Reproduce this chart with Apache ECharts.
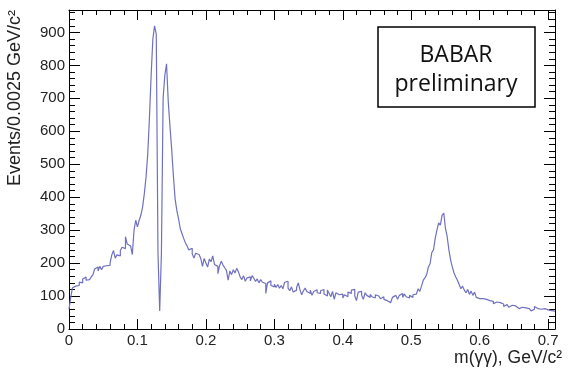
<!DOCTYPE html>
<html>
<head>
<meta charset="utf-8">
<script src="https://cdn.jsdelivr.net/npm/echarts@6/dist/echarts.min.js"></script>
<style>
  html, body { margin: 0; padding: 0; background: #fff; }
  #chart { width: 568px; height: 376px; }
</style>
</head>
<body>
<div id="chart"></div>
<script>
// histogram, bin width 0.0025 GeV/c2, starting at 0
var binWidth = 0.0025
var xMax = 0.71
var yMax = 968

// 0 - 0.11
var lowMass = [
  60, 95, 125, 130, 135, 132, 142, 140, 152, 158,
  148, 150, 145, 158, 165, 182, 188, 176, 190, 180,
  190, 192, 194, 193, 200, 225, 238, 215, 225, 222,
  238, 248, 244, 280, 258, 252, 250, 226, 300, 330,
  310, 330, 345, 370
]
// 0.11 - 0.195 (pi0 peak)
var pi0Peak = [
  410, 460, 530, 640, 770, 880, 920, 895, 230, 55,
  230, 700, 770, 805, 690, 615, 545, 465, 395, 360,
  335, 305, 290, 275, 262, 252, 240, 245, 228, 215,
  230, 226, 222, 214
]
// 0.195 - 0.515
var continuum = [
  190, 214, 200, 188, 212, 204, 222, 196, 190, 168,
  192, 206, 194, 186, 178, 148, 176, 165, 180, 170,
  184, 174, 158, 150, 162, 145, 155, 158, 146, 162,
  154, 144, 152, 140, 150, 142, 138, 108, 140, 146,
  132, 128, 136, 126, 135, 124, 132, 122, 142, 145,
  124, 116, 128, 112, 118, 126, 140, 118, 104, 116,
  124, 114, 108, 118, 102, 114, 119, 110, 108, 116,
  120, 106, 100, 118, 108, 98, 114, 90, 110, 104,
  98, 106, 94, 104, 98, 112, 108, 118, 120, 100,
  86, 112, 114, 102, 90, 110, 102, 96, 105, 98,
  94, 104, 100, 96, 92, 98, 90, 86, 92, 80,
  84, 96, 102, 106, 90, 102, 108, 96, 106, 98,
  94, 102, 96, 104, 106, 110, 122, 114
]
// 0.515 - 0.71 (eta peak)
var etaPeak = [
  130, 148, 155, 165, 188, 198, 232, 240, 275, 300,
  322, 315, 345, 352, 305, 280, 240, 210, 188, 170,
  158, 148, 135, 122, 130, 118, 110, 120, 105, 115,
  102, 112, 96, 92, 88, 92, 86, 90, 84, 86,
  80, 84, 77, 82, 78, 80, 74, 76, 68, 74,
  70, 66, 72, 68, 70, 64, 62, 68, 66, 60,
  64, 70, 62, 66, 55, 60, 68, 62, 64, 60,
  66, 62, 64, 58, 62, 56, 60, 54
]

var counts = lowMass.concat(pi0Peak, continuum, etaPeak)
var histData = counts.map(function (v, i) {
  return [i * binWidth, v]
})
// close the last bin at the right edge
histData.push([xMax, counts[counts.length - 1]])

var chart = echarts.init(document.getElementById('chart'))

var font = 'Liberation Sans, Arial, Helvetica, sans-serif'

function xLabel(v) {
  var r = Math.round(v * 10)
  if (Math.abs(v * 10 - r) > 1e-6) return ''
  return r === 0 ? '0' : (r / 10).toFixed(1)
}
function yLabel(v) {
  return v % 100 === 0 ? String(v) : ''
}

var tickLine = { color: '#000', width: 1 }

var option = {
  animation: false,
  backgroundColor: '#fff',
  grid: {
    left: 69,
    right: 13,
    top: 10,
    bottom: 47,
    containLabel: false,
    outerBoundsMode: 'none'
  },
  xAxis: [
    {
      type: 'value',
      position: 'bottom',
      min: 0,
      max: xMax,
      interval: 0.1,
      axisLine: { show: true, onZero: false, lineStyle: tickLine },
      axisTick: { show: true, inside: true, length: 10, lineStyle: tickLine },
      minorTick: { show: true, splitNumber: 5, length: 5, lineStyle: tickLine },
      splitLine: { show: false },
      axisLabel: {
        formatter: xLabel,
        fontSize: 15,
        fontFamily: font,
        color: '#222',
        margin: 4
      }
    },
    {
      type: 'value',
      position: 'top',
      min: 0,
      max: xMax,
      interval: 0.1,
      axisLine: { show: true, onZero: false, lineStyle: tickLine },
      axisTick: { show: true, inside: true, length: 10, lineStyle: tickLine },
      minorTick: { show: true, splitNumber: 5, length: 5, lineStyle: tickLine },
      splitLine: { show: false },
      axisLabel: { show: false }
    }
  ],
  yAxis: [
    {
      type: 'value',
      position: 'left',
      min: 0,
      max: yMax,
      interval: 100,
      axisLine: { show: true, onZero: false, lineStyle: tickLine },
      axisTick: { show: true, inside: true, length: 11, lineStyle: tickLine },
      minorTick: { show: true, splitNumber: 5, length: 6, lineStyle: tickLine },
      splitLine: { show: false },
      axisLabel: {
        formatter: yLabel,
        fontSize: 15,
        fontFamily: font,
        color: '#222',
        margin: 4
      }
    },
    {
      type: 'value',
      position: 'right',
      min: 0,
      max: yMax,
      interval: 100,
      axisLine: { show: true, onZero: false, lineStyle: tickLine },
      axisTick: { show: true, inside: true, length: 11, lineStyle: tickLine },
      minorTick: { show: true, splitNumber: 5, length: 6, lineStyle: tickLine },
      splitLine: { show: false },
      axisLabel: { show: false }
    }
  ],
  series: [
    {
      type: 'line',
      step: 'end',
      xAxisIndex: 0,
      yAxisIndex: 0,
      data: histData,
      showSymbol: false,
      symbol: 'none',
      lineStyle: { color: '#7070c0', width: 1.2 }
    }
  ],
  graphic: [
    // axis titles
    {
      type: 'text',
      x: 15,
      y: 10,
      rotation: Math.PI / 2,
      style: {
        text: 'Events/0.0025 GeV/c²',
        fontSize: 18,
        fontFamily: font,
        fill: '#222',
        align: 'right',
        verticalAlign: 'middle'
      }
    },
    {
      type: 'text',
      x: 562,
      y: 358,
      style: {
        text: 'm(γγ), GeV/c²',
        fontSize: 17.5,
        fontFamily: font,
        fill: '#222',
        align: 'right',
        verticalAlign: 'middle'
      }
    },
    // BABAR preliminary box
    {
      type: 'rect',
      shape: { x: 378, y: 27, width: 157, height: 80 },
      style: { fill: '#fff', stroke: '#000', lineWidth: 1.5 }
    },
    {
      type: 'text',
      x: 456,
      y: 55,
      style: {
        text: 'BABAR',
        fontSize: 23,
        fontFamily: 'Open Sans, sans-serif',
        fill: '#111',
        align: 'center',
        verticalAlign: 'middle'
      }
    },
    {
      type: 'text',
      x: 456,
      y: 84,
      style: {
        text: 'preliminary',
        fontSize: 23,
        fontFamily: 'Open Sans, sans-serif',
        fill: '#111',
        align: 'center',
        verticalAlign: 'middle'
      }
    }
  ]
}

chart.setOption(option)
</script>
</body>
</html>
